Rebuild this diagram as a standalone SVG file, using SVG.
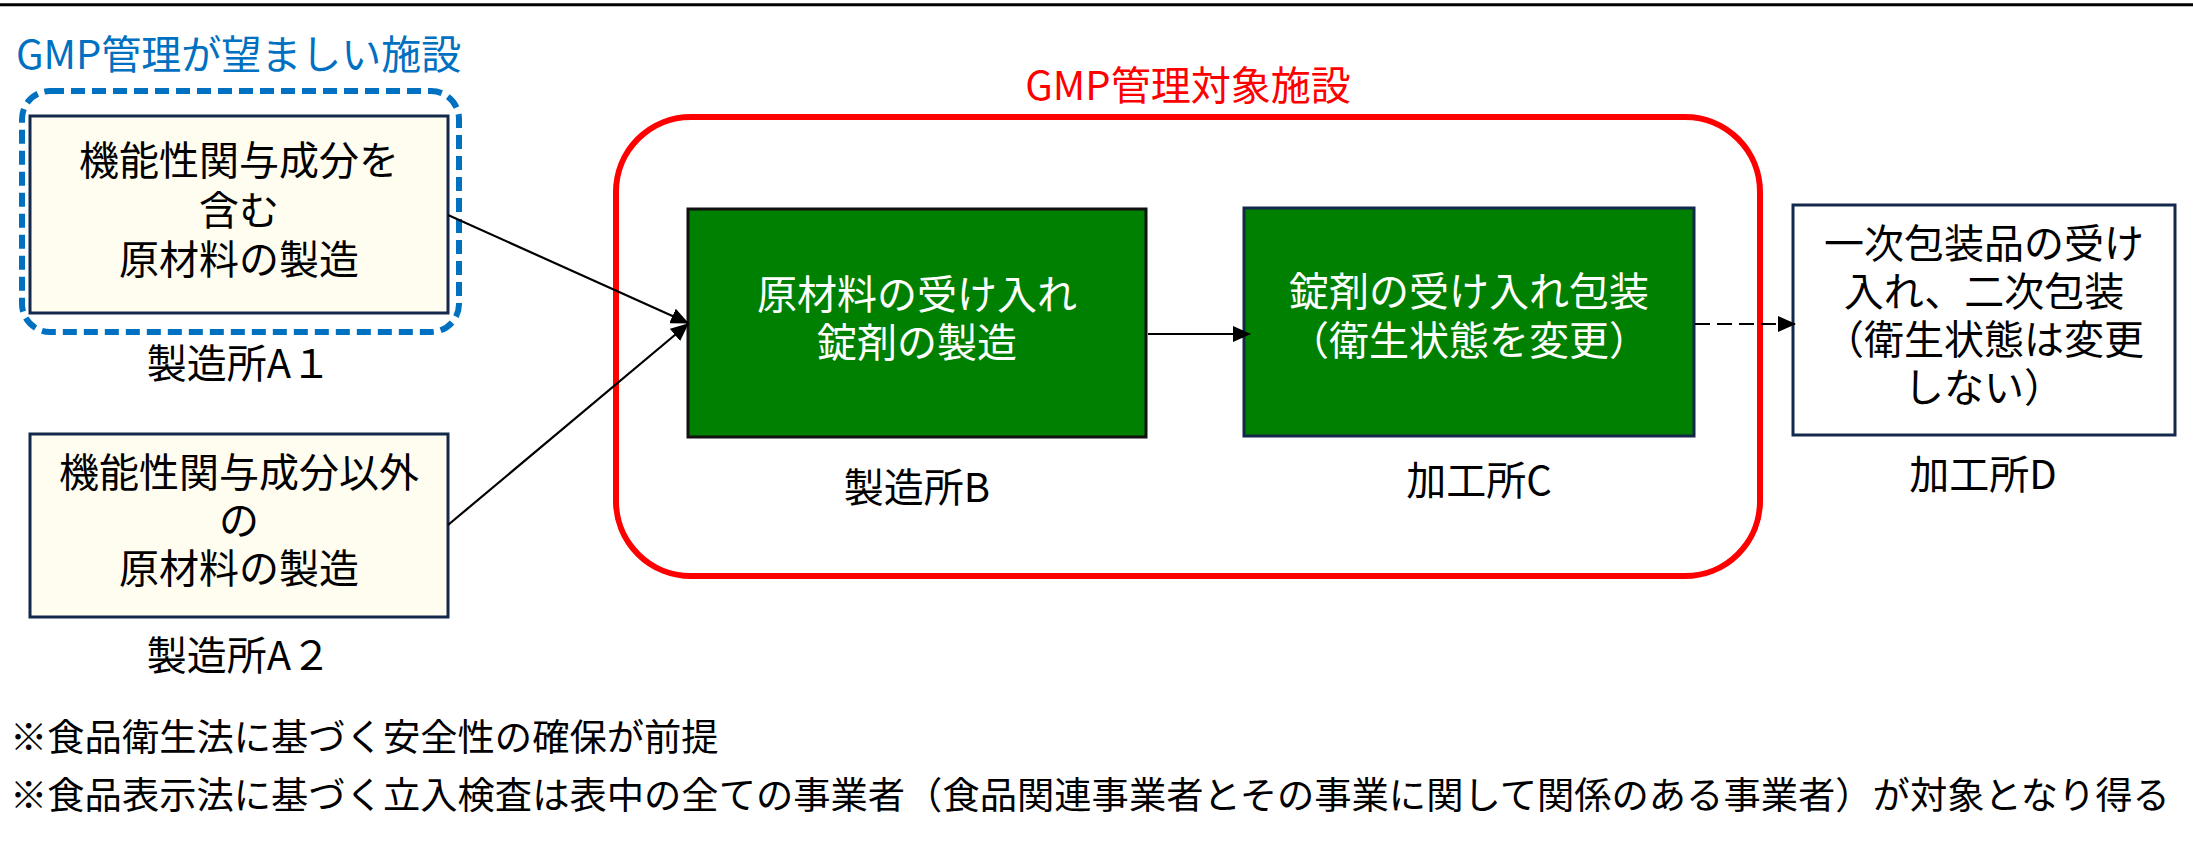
<svg xmlns="http://www.w3.org/2000/svg" width="2193" height="855" viewBox="0 0 2193 855">
<defs>
<style>
text{font-family:"Noto Sans CJK JP","Noto Sans",sans-serif;font-size:40px;fill:#000;text-anchor:middle}
.w{fill:#fff}
.foot{font-size:37.3px;text-anchor:start}
.cream{fill:#FFFCF0;stroke:#13284A;stroke-width:3}
.conn{stroke:#000;stroke-width:2.2;fill:none}
</style>
<marker id="ah" viewBox="0 0 18 16" refX="17" refY="8" markerWidth="18" markerHeight="16" markerUnits="userSpaceOnUse" orient="auto">
<path d="M0,0 L18,8 L0,16 Z" fill="#000"/>
</marker>
</defs>
<rect x="0" y="0" width="2193" height="855" fill="#fff"/>
<line x1="0" y1="4.7" x2="2193" y2="4.7" stroke="#000" stroke-width="3"/>

<g id="group-gmp-desirable">
<text x="16" y="69" style="fill:#0070C0;text-anchor:start">GMP管理が望ましい施設</text>
<rect x="22" y="91" width="437" height="241" rx="28" fill="none" stroke="#0070C0" stroke-width="6" stroke-dasharray="14,7"/>
</g>

<g id="group-gmp-target">
<text x="1188" y="100" style="fill:#FF0000">GMP管理対象施設</text>
<rect x="616" y="117" width="1144" height="459" rx="75" fill="none" stroke="#FF0000" stroke-width="6"/>
</g>

<g id="node-a1">
<rect class="cream" x="30" y="116" width="418" height="197"/>
<text x="239" y="175">機能性関与成分を</text>
<text x="239" y="225">含む</text>
<text x="239" y="274">原材料の製造</text>
<text x="239" y="378">製造所A１</text>
</g>

<g id="node-a2">
<rect class="cream" x="30" y="434" width="418" height="183"/>
<text x="239" y="487">機能性関与成分以外</text>
<text x="239" y="535">の</text>
<text x="239" y="583">原材料の製造</text>
<text x="239" y="670">製造所A２</text>
</g>

<g id="node-b">
<rect x="688" y="209" width="458" height="228" fill="#008000" stroke="#111" stroke-width="3"/>
<text class="w" x="917" y="309">原材料の受け入れ</text>
<text class="w" x="917" y="357">錠剤の製造</text>
<text x="917" y="502">製造所B</text>
</g>

<g id="node-c">
<rect x="1244" y="208" width="450" height="228" fill="#008000" stroke="#13284A" stroke-width="3"/>
<text class="w" x="1469" y="306">錠剤の受け入れ包装</text>
<text class="w" x="1469" y="355">（衛生状態を変更）</text>
<text x="1479" y="495">加工所C</text>
</g>

<g id="node-d">
<rect x="1793" y="205" width="382" height="230" fill="#fff" stroke="#13284A" stroke-width="3"/>
<text x="1984" y="258">一次包装品の受け</text>
<text x="1984" y="306">入れ、二次包装</text>
<text x="1984" y="354">（衛生状態は変更</text>
<text x="1984" y="402">しない）</text>
<text x="1983" y="489">加工所D</text>
</g>

<g id="connectors">
<line class="conn" x1="448" y1="215" x2="688" y2="323" marker-end="url(#ah)"/>
<line class="conn" x1="448" y1="525" x2="688" y2="324" marker-end="url(#ah)"/>
<line class="conn" x1="1148" y1="334" x2="1250" y2="334" marker-end="url(#ah)"/>
<line class="conn" x1="1695" y1="324" x2="1795" y2="324" stroke-dasharray="15,7" marker-end="url(#ah)"/>
</g>

<g id="footnotes">
<text class="foot" x="10" y="751">※食品衛生法に基づく安全性の確保が前提</text>
<text class="foot" x="10" y="809">※食品表示法に基づく立入検査は表中の全ての事業者（食品関連事業者とその事業に関して関係のある事業者）が対象となり得る</text>
</g>
</svg>
